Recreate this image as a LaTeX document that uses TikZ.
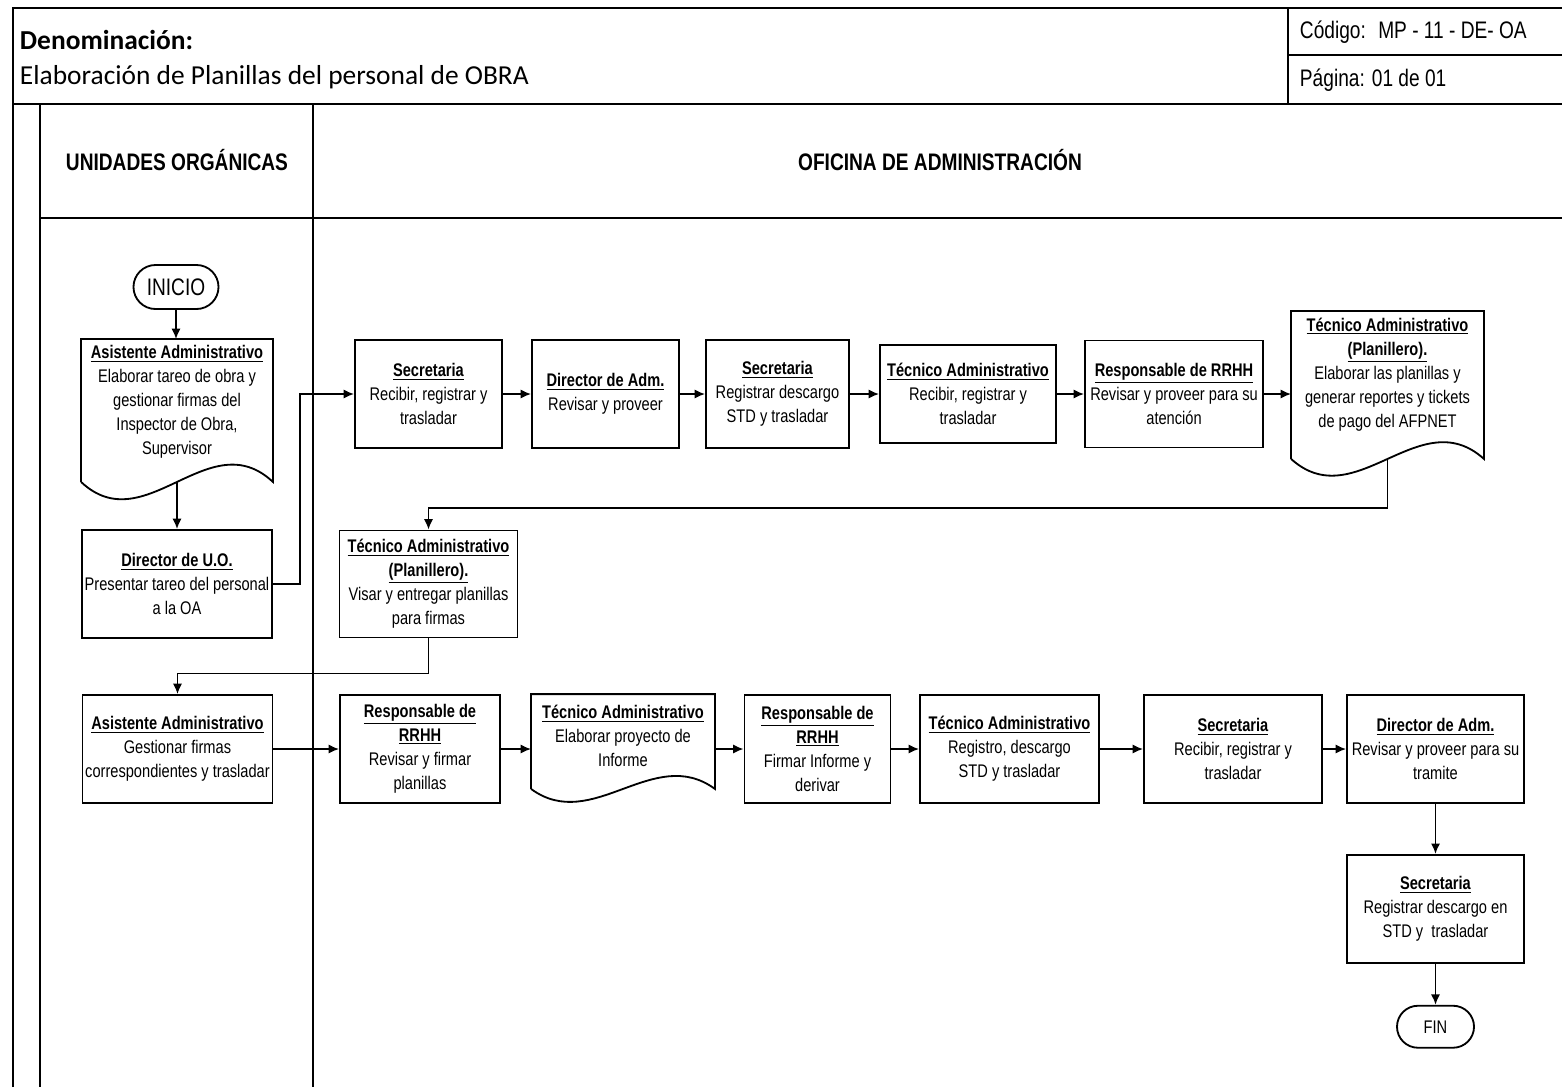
\documentclass[tikz,border=0pt]{standalone}
\usepackage{fontspec}
\setmainfont{Liberation Sans}[FakeStretch=0.8]
\newfontfamily\calibri{Carlito}
\usetikzlibrary{arrows.meta, calc, positioning, shapes.misc}

\tikzset{
  linea/.style={line width=1.3pt},
  caja/.style={draw, linea, align=center, inner sep=0pt, font=\fontsize{13}{17}\selectfont},
  doc/.style={caja, draw=none},
  terminal/.style={draw, linea, rounded rectangle, inner sep=0pt},
  flecha/.style={linea, -{Latex[length=2.6mm, width=2.3mm]}},
}
\newcommand{\tit}[1]{\underline{\textbf{#1}}}
% document outline: node, drop of the wave, bulge
\newcommand{\docforma}[3]{%
  \draw[linea] ($(#1.south west)+(0,#2)$) -- (#1.north west) -- (#1.north east) -- ($(#1.south east)+(0,#2)$)
    .. controls ($(#1.south east)!1/3!(#1.south west)+(0,#2-#3)$) and ($(#1.south east)!2/3!(#1.south west)+(0,#2+#3)$) .. ($(#1.south west)+(0,#2)$);
}

\begin{document}
\begin{tikzpicture}[x=0.025cm, y=-0.025cm]

    \useasboundingbox (0,0) rectangle (1562,1087);

    % Frame and lanes
    \draw[linea] (13,1087) -- (13,8) -- (1562,8);
    \draw[linea] (13,104) -- (1562,104);
    \draw[linea] (1288,8) -- (1288,104);
    \draw[linea] (1288,55) -- (1562,55);
    \draw[linea] (40,104) -- (40,1087);
    \draw[linea] (313,104) -- (313,1087);
    \draw[linea] (40,218) -- (1562,218);

    % Header
    \node[anchor=west, font=\calibri\bfseries\fontsize{19.5}{22}\selectfont] (denom) at (15,40) {Denominación:};
    \node[anchor=west, font=\calibri\fontsize{19.5}{22}\selectfont] (titulo) at (15,77) {Elaboración de Planillas del personal de OBRA};
    \node[anchor=west, font=\fontsize{17}{20}\selectfont] (codigo) at (1295,32) {Código:~ MP - 11 - DE- OA};
    \node[anchor=west, font=\fontsize{17}{20}\selectfont] (pagina) at (1295,80) {Página: 01 de 01};

    \node[font=\bfseries\fontsize{17}{20}\selectfont] (uo) at (177,160) {UNIDADES ORGÁNICAS};
    \node[font=\bfseries\fontsize{17}{20}\selectfont] (oa) at (940,160) {OFICINA DE ADMINISTRACIÓN};

    % Define nodes
    \node[terminal, minimum width=2.125cm, minimum height=1.1cm, font=\fontsize{17}{20}\selectfont] (inicio) at (176,287) {INICIO};
    \node[doc, minimum width=4.75cm, minimum height=3.1cm] (a1) at (177,402)
      {\tit{Asistente Administrativo}\\Elaborar tareo de obra y\\gestionar firmas del\\Inspector de Obra,\\Supervisor};
    \node[caja, minimum width=4.75cm, minimum height=2.7cm] (du) at (177,584)
      {\tit{Director de U.O.}\\Presentar tareo del personal\\a la OA};

    % top row
    \node[caja, minimum width=3.675cm, minimum height=2.7cm] (sec1) at (428.5,394)
      {\tit{Secretaria}\\Recibir, registrar y\\trasladar};
    \node[caja, minimum width=3.675cm, minimum height=2.7cm] (da1) at (605.5,394)
      {\tit{Director de Adm.}\\Revisar y proveer};
    \node[caja, minimum width=3.575cm, minimum height=2.7cm] (sec2) at (777.5,394)
      {\tit{Secretaria}\\Registrar descargo\\STD y trasladar};
    \node[caja, minimum width=4.4cm, minimum height=2.45cm] (ta1) at (968,394)
      {\tit{Técnico Administrativo}\\Recibir, registrar y\\trasladar};
    \node[caja, minimum width=4.45cm, minimum height=2.675cm] (rh1) at (1174,394)
      {\tit{Responsable de RRHH}\\Revisar y proveer para su\\atención};
    \node[doc, minimum width=4.775cm, minimum height=3.125cm] (tap) at (1387.5,374.5)
      {\tit{Técnico Administrativo}\\\tit{(Planillero).}\\Elaborar las planillas y\\generar reportes y tickets\\de pago del AFPNET};

    \node[caja, minimum width=4.45cm, minimum height=2.675cm] (tap2) at (428.5,584)
      {\tit{Técnico Administrativo}\\\tit{(Planillero).}\\Visar y entregar planillas\\para firmas};

    % bottom row
    \node[caja, minimum width=4.75cm, minimum height=2.7cm] (a2) at (177.5,749)
      {\tit{Asistente Administrativo}\\Gestionar firmas\\correspondientes y trasladar};
    \node[caja, minimum width=4.0cm, minimum height=2.7cm] (r2) at (420,749)
      {\tit{Responsable de}\\\tit{RRHH}\\Revisar y firmar\\planillas};
    \node[doc, minimum width=4.55cm, minimum height=2.05cm] (t2) at (623,736)
      {\tit{Técnico Administrativo}\\Elaborar proyecto de\\Informe};
    \node[caja, minimum width=3.65cm, minimum height=2.7cm] (r3) at (817.5,749)
      {\tit{Responsable de}\\\tit{RRHH}\\Firmar Informe y\\derivar};
    \node[caja, minimum width=4.475cm, minimum height=2.7cm] (t3) at (1009.5,749)
      {\tit{Técnico Administrativo}\\Registro, descargo\\STD y trasladar};
    \node[caja, minimum width=4.45cm, minimum height=2.7cm] (s3) at (1233,749)
      {\tit{Secretaria}\\Recibir, registrar y\\trasladar};
    \node[caja, minimum width=4.425cm, minimum height=2.7cm] (d3) at (1435.5,749)
      {\tit{Director de Adm.}\\Revisar y proveer para su\\tramite};
    \node[caja, minimum width=4.425cm, minimum height=2.7cm, below=1.25cm of d3] (s4)
      {\tit{Secretaria}\\Registrar descargo en\\STD y~ trasladar};
    \node[terminal, minimum width=1.925cm, minimum height=1.05cm, font=\fontsize{13}{16}\selectfont, below=1.025cm of s4] (fin) {FIN};

    % Document outlines
    \docforma{a1}{17}{60}
    \docforma{tap}{21}{58}
    \docforma{t2}{11}{45}

    % Connect the nodes
    \draw[flecha] (inicio.south) -- (inicio.south |- a1.north);
    \draw[flecha] ($(a1.south)+(0,17)$) -- (du.north);
    \draw[flecha] (du.east) -- ++(27,0) |- (sec1.west);
    \draw[flecha] (sec1.east) -- (da1.west);
    \draw[flecha] (da1.east) -- (sec2.west);
    \draw[flecha] (sec2.east) -- (ta1.west);
    \draw[flecha] (ta1.east) -- (rh1.west);
    \draw[flecha] (rh1.east) -- (rh1.east -| tap.west);
    \draw[flecha] ($(tap.south)+(0,21)$) -- ++(0,49) -| (tap2.north);
    \draw[flecha] (tap2.south) -- ++(0,35) -| (a2.north);
    \draw[flecha] (a2.east) -- (r2.west);
    \draw[flecha] (r2.east) -- (r2.east -| t2.west);
    \draw[flecha] (t2.east |- r3.west) -- (r3.west);
    \draw[flecha] (r3.east) -- (t3.west);
    \draw[flecha] (t3.east) -- (s3.west);
    \draw[flecha] (s3.east) -- (d3.west);
    \draw[flecha] (d3.south) -- (s4.north);
    \draw[flecha] (s4.south) -- (fin.north);

\end{tikzpicture}
\end{document}
